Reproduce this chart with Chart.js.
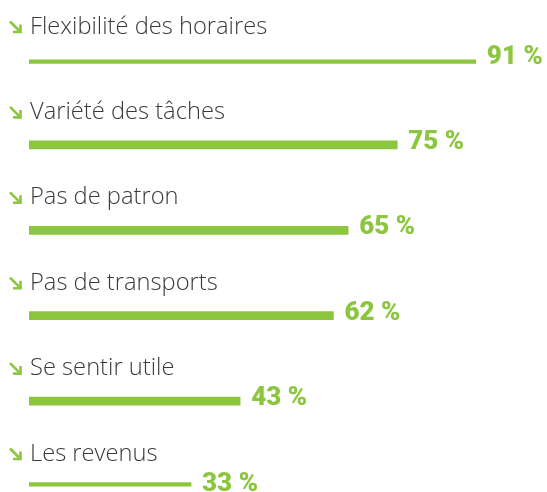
<!DOCTYPE html>
<html>
<head>
<meta charset="utf-8">
<script src="https://cdn.jsdelivr.net/npm/chart.js@4"></script>
<style>
html,body{margin:0;padding:0;background:#fff;}
#wrap{width:547px;height:492px;}
</style>
</head>
<body>
<div id="wrap"><canvas id="c" width="547" height="492"></canvas></div>
<script>
const categories = ["Flexibilité des horaires","Variété des tâches","Pas de patron","Pas de transports","Se sentir utile","Les revenus"];
const values = [91, 75, 65, 62, 43, 33];
const unit = " %";

const GREEN = "#8cc63f";
const TEXT = "#3a3a3a";

const labelPlugin = {
  id: "labels",
  afterDatasetsDraw(chart) {
    const ctx = chart.ctx;
    const meta = chart.getDatasetMeta(0);
    ctx.save();
    meta.data.forEach((bar, i) => {
      const x0 = bar.base, x1 = bar.x, y = bar.y;
      // category label
      ctx.fillStyle = TEXT;
      ctx.font = "300 23.7px 'Open Sans'";
      ctx.textBaseline = "alphabetic";
      ctx.textAlign = "left";
      ctx.fillText(categories[i], x0 + 1, y - 26);
      // arrow
      const ax = x0 - 19, ay = y - 38;
      ctx.strokeStyle = GREEN;
      ctx.lineWidth = 2.6;
      ctx.lineCap = "butt";
      ctx.beginPath();
      ctx.moveTo(ax, ay);
      ctx.lineTo(ax + 9, ay + 9);
      ctx.stroke();
      ctx.beginPath();
      ctx.moveTo(ax + 10.5, ay + 3);
      ctx.lineTo(ax + 10.5, ay + 10.5);
      ctx.lineTo(ax + 3, ay + 10.5);
      ctx.stroke();
      // value label
      ctx.fillStyle = GREEN;
      ctx.font = "normal 900 26px Roboto";
      ctx.fillText(values[i] + unit, x1 + 11, y + 4);
    });
    ctx.restore();
  }
};

function draw() {
  new Chart(document.getElementById("c"), {
    type: "bar",
    data: {
      labels: categories,
      datasets: [{
        data: values,
        backgroundColor: GREEN,
        borderWidth: 0,
        barThickness: 8
      }]
    },
    options: {
      indexAxis: "y",
      responsive: false,
      animation: false,
      devicePixelRatio: 1,
      layout: { padding: { left: 29, right: 27, top: 59.5, bottom: 5.5 } },
      plugins: { legend: { display: false }, tooltip: { enabled: false } },
      scales: {
        x: { display: false, min: 0, max: 100 },
        y: { display: false, offset: false, grid: { offset: false } }
      }
    },
    plugins: [labelPlugin]
  });
}
Promise.all([
  document.fonts.load("300 23.7px 'Open Sans'"),
  document.fonts.load("900 26px Roboto")
]).then(draw, draw);
</script>
</body>
</html>
